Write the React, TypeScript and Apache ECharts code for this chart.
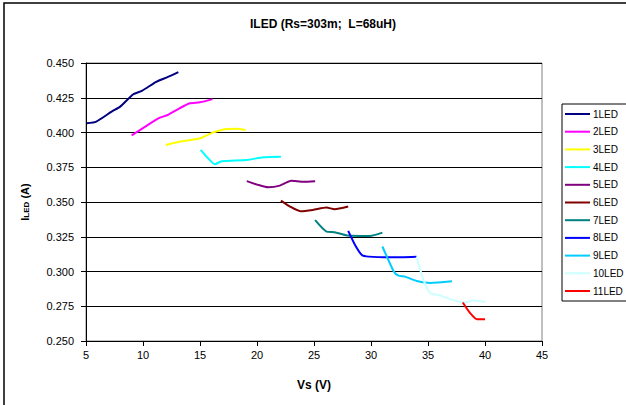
import React, { useEffect, useRef } from "react";
import * as echarts from "echarts";

const seriesNames = ["1LED", "2LED", "3LED", "4LED", "5LED", "6LED", "7LED", "8LED", "9LED", "10LED", "11LED"];
const seriesColors = ["#000080", "#FF00FF", "#FFFF00", "#00FFFF", "#800080", "#800000", "#008080", "#0000FF", "#00CCFF", "#CCFFFF", "#FF0000"];

const led1 = [[5.06, 0.4066], [5.9, 0.4078], [7.25, 0.415], [8.0, 0.4186], [9.15, 0.4275], [9.9, 0.430], [11.2, 0.4366], [12.1, 0.4397], [13.1, 0.4435]];
const led2 = [[9.0, 0.398], [10.2, 0.4042], [11.35, 0.4102], [12.1, 0.4124], [13.2, 0.4174], [14.1, 0.421], [15.0, 0.4217], [16.1, 0.424]];
const led3 = [[12.0, 0.391], [13.2, 0.3934], [15.0, 0.3958], [16.2, 0.4002], [17.3, 0.4025], [18.2, 0.4027], [19.0, 0.4018]];
const led4 = [[15.06, 0.3875], [15.7, 0.3815], [16.3, 0.3772], [16.9, 0.3793], [19.1, 0.3802], [20.55, 0.3822], [22.1, 0.3826]];
const led5 = [[19.1, 0.365], [20.1, 0.3623], [21.0, 0.3606], [22.0, 0.3618], [23.0, 0.3652], [24.05, 0.3645], [25.1, 0.365]];
const led6 = [[22.1, 0.351], [22.9, 0.3467], [23.8, 0.3434], [24.9, 0.3443], [26.1, 0.346], [26.8, 0.3448], [28.0, 0.3467]];
const led7 = [[25.1, 0.3369], [26.1, 0.3287], [26.8, 0.3283], [27.9, 0.3259], [29.9, 0.3256], [31.0, 0.328]];
const led8 = [[28.0, 0.3292], [28.6, 0.3191], [29.2, 0.3119], [29.8, 0.3107], [31.7, 0.3102], [34.0, 0.3107]];
const led9 = [[31.0, 0.318], [32.0, 0.300], [32.4, 0.297], [33.0, 0.2963], [34.0, 0.2932], [35.2, 0.2918], [37.1, 0.293]];
const led10 = [[34.0, 0.3107], [34.6, 0.294], [35.2, 0.2843], [35.9, 0.2831], [38.1, 0.2777], [39.1, 0.2791], [40.0, 0.278]];
const led11 = [[38.05, 0.2777], [38.7, 0.27], [39.3, 0.2656], [40.0, 0.2656]];

const allData = [led1, led2, led3, led4, led5, led6, led7, led8, led9, led10, led11];

const FONT = "'Liberation Sans', Arial, sans-serif";

export default function App() {
  const ref = useRef<HTMLDivElement>(null);
  useEffect(() => {
    if (!ref.current) return;
    const chart = echarts.init(ref.current, undefined, { renderer: "svg" });
    chart.setOption({
      animation: false,
      backgroundColor: "#ffffff",
      textStyle: { fontFamily: FONT },
      title: {
        text: "ILED (Rs=303m;  L=68uH)",
        left: 318,
        textAlign: "center",
        top: 13,
        textStyle: { fontSize: 12, fontWeight: "bold", color: "#000", fontFamily: FONT },
      },
      grid: {
        left: 86,
        right: 84,
        top: 63,
        bottom: 64,
        show: true,
        borderColor: "#808080",
        borderWidth: 1,
      },
      legend: {
        orient: "vertical",
        left: 562,
        top: 104,
        padding: [4, 10, 4, 3],
        borderColor: "#000",
        borderWidth: 1,
        backgroundColor: "#fff",
        icon: "rect",
        itemWidth: 25,
        itemHeight: 2,
        itemGap: 5.7,
        data: seriesNames,
        textStyle: { fontSize: 10, color: "#000", fontFamily: FONT, lineHeight: 12, padding: [0, 0, 0, -2] },
      },
      xAxis: {
        type: "value",
        min: 5,
        max: 45,
        interval: 5,
        name: "Vs (V)",
        nameLocation: "middle",
        nameGap: 38,
        nameTextStyle: { fontSize: 12, fontWeight: "bold", color: "#000", fontFamily: FONT },
        axisLine: { show: true, lineStyle: { color: "#000", width: 1 } },
        axisTick: { show: true, length: 5, lineStyle: { color: "#000" } },
        axisLabel: { fontSize: 11, color: "#000", margin: 8, fontFamily: FONT },
        splitLine: { show: false },
      },
      yAxis: {
        type: "value",
        min: 0.25,
        max: 0.45,
        interval: 0.025,
        name: "{b|I}{s|LED}{b| (A)}",
        nameLocation: "middle",
        nameGap: 56,
        nameRotate: 90,
        nameTextStyle: {
          rich: {
            b: { fontSize: 11, fontWeight: "bold", color: "#000", fontFamily: FONT },
            s: { fontSize: 8, fontWeight: "bold", color: "#000", fontFamily: FONT, verticalAlign: "bottom", padding: [3, 0, 0, 0] },
          },
        },
        axisLine: { show: true, lineStyle: { color: "#000", width: 1 } },
        axisTick: { show: true, length: 5, lineStyle: { color: "#000" } },
        axisLabel: {
          fontSize: 11,
          color: "#000",
          margin: 12,
          fontFamily: FONT,
          formatter: (v: number) => v.toFixed(3),
        },
        splitLine: { show: true, lineStyle: { color: "#000", width: 1 } },
      },
      series: allData.map((d, i) => ({
        name: seriesNames[i],
        type: "line",
        data: d,
        symbol: "none",
        smooth: 0.2,
        color: seriesColors[i],
        lineStyle: { width: 2, color: seriesColors[i] },
        z: 3,
      })),
      graphic: [
        {
          type: "rect",
          shape: { x: 4, y: 3, width: 700, height: 500 },
          style: { fill: "none", stroke: "#000", lineWidth: 1.5 },
          silent: true,
          z: 100,
        },
      ],
    });
    return () => chart.dispose();
  }, []);
  return (
    <div
      ref={ref}
      style={{ position: "fixed", left: 0, top: 0, width: 626, height: 405, background: "#fff" }}
    />
  );
}
